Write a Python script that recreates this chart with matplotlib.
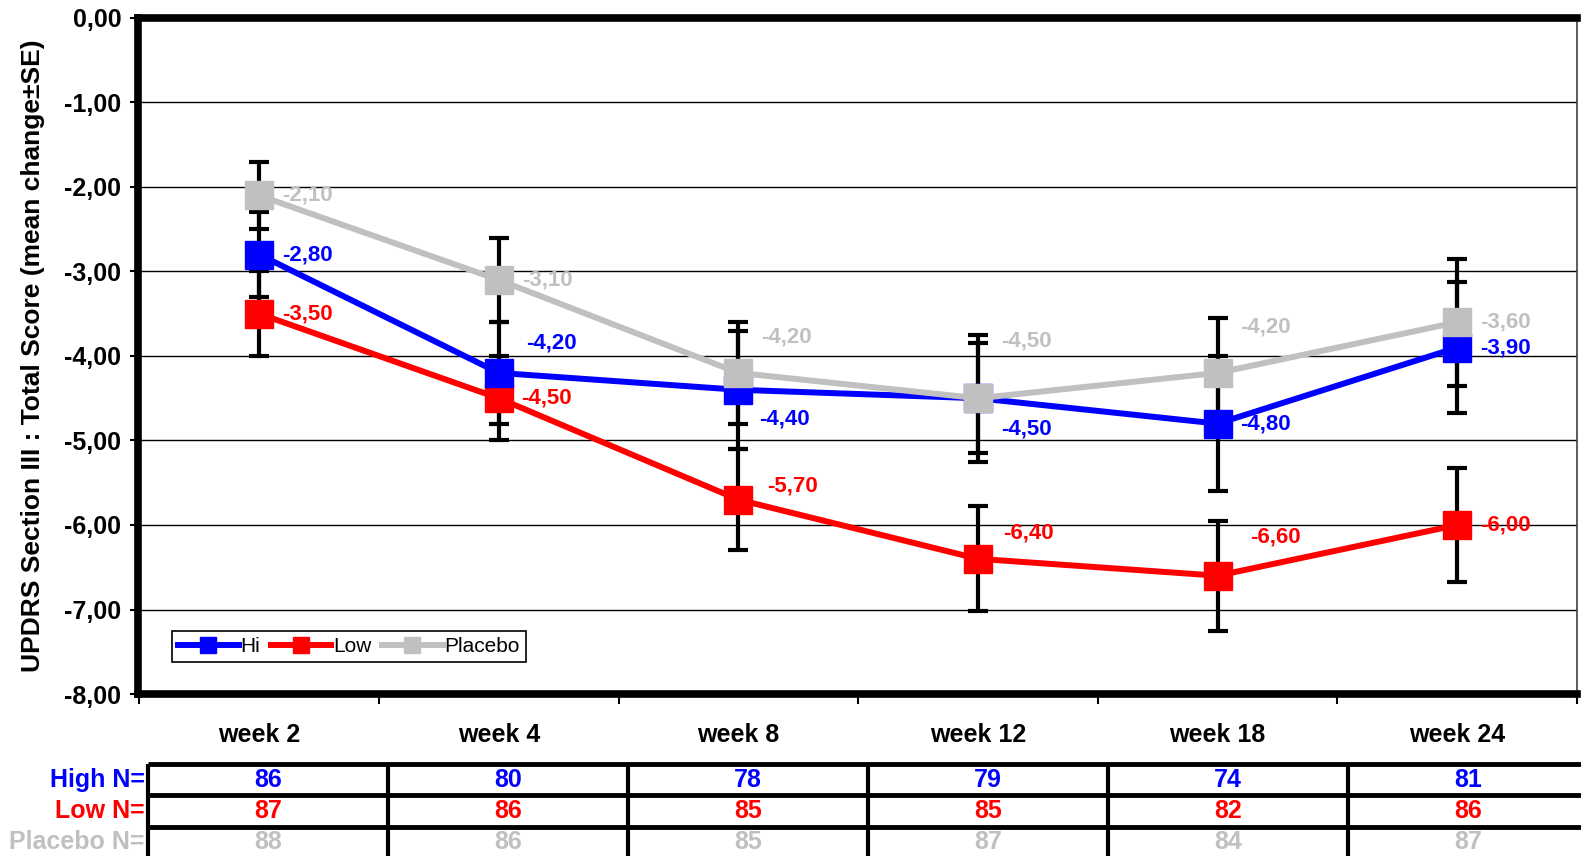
import numpy as np
import matplotlib
matplotlib.use("Agg")
import matplotlib.pyplot as plt
from matplotlib.lines import Line2D

plt.rcParams["font.family"] = ["Liberation Sans", "DejaVu Sans"]

weeks = ["week 2", "week 4", "week 8", "week 12", "week 18", "week 24"]

hi_mean = [-2.80, -4.20, -4.40, -4.50, -4.80, -3.90]
hi_se = [0.50, 0.60, 0.70, 0.65, 0.80, 0.78]
low_mean = [-3.50, -4.50, -5.70, -6.40, -6.60, -6.00]
low_se = [0.50, 0.50, 0.60, 0.62, 0.65, 0.68]
placebo_mean = [-2.10, -3.10, -4.20, -4.50, -4.20, -3.60]
placebo_se = [0.40, 0.50, 0.60, 0.75, 0.65, 0.75]

hi_n = [86, 80, 78, 79, 74, 81]
low_n = [87, 86, 85, 85, 82, 86]
placebo_n = [88, 86, 85, 87, 84, 87]

BLUE, RED, GREY = "#0000ff", "#ff0000", "#c0c0c0"

# where each value label sits relative to its marker (pixels)
hi_offsets = [(23, 0), (27, 30), (21, -29), (23, -31), (23, 0), (23, 0)]
low_offsets = [(23, 0), (22, 0), (29, 14), (25, 26), (33, 39), (23, 0)]
placebo_offsets = [(23, 0), (23, 0), (23, 36), (23, 57), (23, 46), (23, 0)]

W, H = 1581, 856
fig = plt.figure(figsize=(W / 100, H / 100), dpi=100)
ax = fig.add_axes([138 / W, 1 - 694 / H, 1439 / W, 676 / H])

x = np.arange(len(weeks))

series = [
    ("Low", low_mean, low_se, RED, low_offsets),
    ("Hi", hi_mean, hi_se, BLUE, hi_offsets),
    ("Placebo", placebo_mean, placebo_se, GREY, placebo_offsets),
]

for name, mean, se, color, offsets in series:
    ax.errorbar(x, mean, yerr=se, fmt="none", ecolor="black", elinewidth=3,
                capsize=7, capthick=3, zorder=2)

for name, mean, se, color, offsets in series:
    ax.plot(x, mean, color=color, lw=4.3, marker="s", ms=20, mec=color,
            zorder=3, solid_joinstyle="miter")
    for xi, yi, off in zip(x, mean, offsets):
        ax.annotate(f"{yi:.2f}".replace(".", ","), (xi, yi), xytext=off,
                    textcoords="offset pixels", ha="left", va="center",
                    color=color, fontsize=16, fontweight="bold", zorder=4)

ax.set_xlim(-0.506, 5.465)
ax.set_ylim(-8, 0)

ax.set_yticks(np.arange(-8, 0.5, 1))
ax.set_yticklabels([f"{v:.2f}".replace(".", ",") for v in np.arange(-8, 0.5, 1)],
                   fontsize=18, fontweight="bold")
ax.yaxis.grid(True, color="black", lw=1.0, zorder=1)
ax.tick_params(axis="y", direction="out", length=6, width=1.5, pad=6)

ax.set_xticks(x)
ax.set_xticklabels(weeks, fontsize=18, fontweight="bold")
ax.tick_params(axis="x", which="major", length=0, pad=21)
ax.set_xticks(np.arange(-0.5, 6, 1), minor=True)
ax.tick_params(axis="x", which="minor", direction="out", length=7, width=1.5)

for side in ["left", "top", "bottom"]:
    ax.spines[side].set_linewidth(5.5)
    ax.spines[side].set_capstyle("projecting")
ax.spines["right"].set_linewidth(1.2)
ax.spines["right"].set_color("#404040")

ax.set_ylabel("UPDRS Section III : Total Score (mean change±SE)",
              fontsize=19, fontweight="bold", labelpad=14)

handles = [Line2D([], [], color=c, lw=4.3, marker="s", ms=11, mec=c)
           for c in (BLUE, RED, GREY)]
leg = ax.legend(handles, ["Hi", "Low", "Placebo"], loc="lower left",
                bbox_to_anchor=(0.0236, 0.047), borderaxespad=0, ncol=3,
                fontsize=15, handlelength=2.9, handletextpad=0.1,
                columnspacing=0.5, borderpad=0.3, fancybox=False,
                framealpha=1, edgecolor="black")
leg.get_frame().set_linewidth(1.2)

# sample size table under the axis
tab = fig.add_axes([148 / W, -2 / H, 1440 / W, 94 / H])
tab.set_xlim(0, 6)
tab.set_ylim(3, 0)
tab.axis("off")
tab.hlines([0, 1, 2, 3], 0, 6, color="black", lw=3.5, clip_on=False)
tab.vlines(np.arange(7), 0, 3, color="black", lw=3, clip_on=False)

rows = [("High N=", hi_n, BLUE), ("Low N=", low_n, RED), ("Placebo N=", placebo_n, GREY)]
for r, (label, counts, color) in enumerate(rows):
    tab.text(-0.015, r + 0.5, label, ha="right", va="center", color=color,
             fontsize=18, fontweight="bold", clip_on=False)
    for c, n in enumerate(counts):
        tab.text(c + 0.5, r + 0.5, str(n), ha="center", va="center",
                 color=color, fontsize=18, fontweight="bold")

fig.savefig("out.png", dpi=100)
